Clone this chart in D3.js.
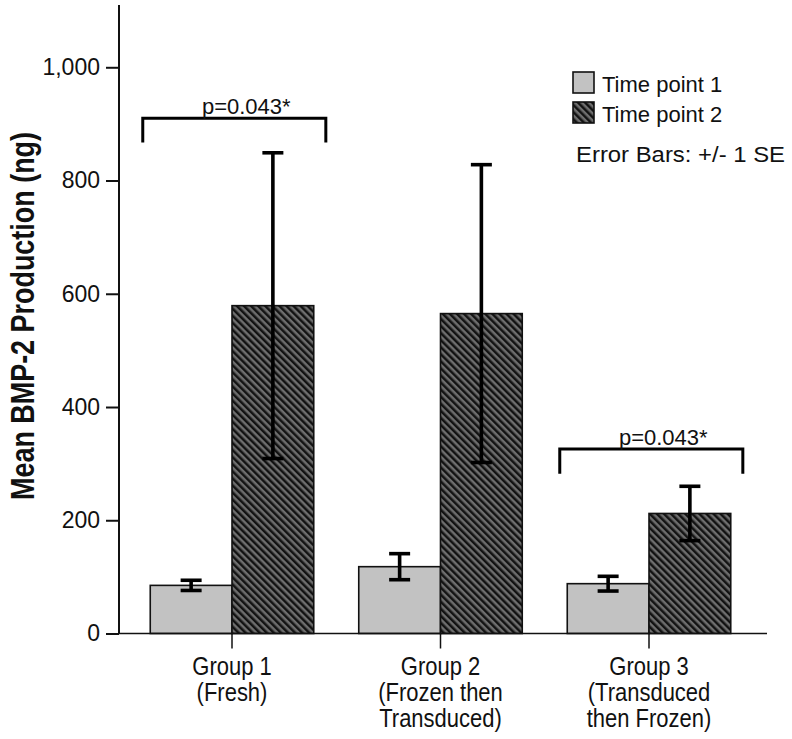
<!DOCTYPE html>
<html>
<head>
<meta charset="utf-8">
<script src="https://cdn.jsdelivr.net/npm/d3@7"></script>
<style>
  html, body { margin: 0; padding: 0; background: #fff; }
  svg text { font-family: "Liberation Sans", Arial, sans-serif; fill: #111; }
</style>
</head>
<body>
<svg id="chart" width="792" height="739"></svg>
<script>
// ---- data ----
const groups = ["Group 1", "Group 2", "Group 3"];
const groupLabels = [
  ["Group 1", "(Fresh)"],
  ["Group 2", "(Frozen then", "Transduced)"],
  ["Group 3", "(Transduced", "then Frozen)"]
];
const series = ["Time point 1", "Time point 2"];
const tp1Mean = [85, 118, 88];
const tp2Mean = [579, 565, 212];
const tp1SE = [9, 23, 13];
const tp2SE = [270, 263, 48];
const yTicks = [0, 200, 400, 600, 800, 1000];
const brackets = [
  { group: "Group 1", top: 910, drop: 43, label: "p=0.043*" },
  { group: "Group 3", top: 326, drop: 44, label: "p=0.043*" }
];
const yTitle = "Mean BMP-2 Production (ng)";
const errorNote = "Error Bars:  +/- 1 SE";

// ---- layout ----
const svg = d3.select("#chart");
const axisX = 119, yTop = 5, yBase = 633.5, xRight = 767;

const y = d3.scaleLinear().domain([0, 1110]).range([yBase, yTop]);
const x0 = d3.scaleBand().domain(groups).range([127.75, 753.25]).padding(0);
const x1 = d3.scaleBand().domain(series).range([22.5, 186]).padding(0);

const defs = svg.append("defs");
const pat = defs.append("pattern")
  .attr("id", "hatch").attr("patternUnits", "userSpaceOnUse")
  .attr("width", 5).attr("height", 5)
  .attr("patternTransform", "rotate(-45)");
pat.append("rect").attr("width", 5).attr("height", 5).attr("fill", "#6e6e6e");
pat.append("rect").attr("x", 0).attr("width", 2.5).attr("height", 5).attr("fill", "#121212");

const fills = { "Time point 1": "#c2c2c2", "Time point 2": "url(#hatch)" };

const rows = [];
groups.forEach((g, i) => {
  rows.push({ g, s: series[0], v: tp1Mean[i], se: tp1SE[i] });
  rows.push({ g, s: series[1], v: tp2Mean[i], se: tp2SE[i] });
});

// bars
svg.append("g").selectAll("rect").data(rows).join("rect")
  .attr("x", d => x0(d.g) + x1(d.s))
  .attr("y", d => y(d.v))
  .attr("width", x1.bandwidth())
  .attr("height", d => y(0) - y(d.v))
  .attr("fill", d => fills[d.s])
  .attr("stroke", "#111").attr("stroke-width", 1.6);

// error bars
const eb = svg.append("g").attr("stroke", "#000").attr("stroke-width", 3.6);
rows.forEach(d => {
  const cx = x0(d.g) + x1(d.s) + x1.bandwidth() / 2;
  const hw = 10.5;
  eb.append("line").attr("x1", cx).attr("x2", cx).attr("y1", y(d.v + d.se)).attr("y2", y(d.v - d.se));
  eb.append("line").attr("x1", cx - hw).attr("x2", cx + hw).attr("y1", y(d.v + d.se)).attr("y2", y(d.v + d.se));
  eb.append("line").attr("x1", cx - hw).attr("x2", cx + hw).attr("y1", y(d.v - d.se)).attr("y2", y(d.v - d.se));
});

// y axis
const yAxis = d3.axisLeft(y).tickValues(yTicks).tickFormat(d3.format(",")).tickSizeOuter(0).tickSize(13).tickPadding(6);
const gy = svg.append("g").attr("transform", `translate(${axisX},0)`).call(yAxis);
gy.select(".domain").remove();
gy.selectAll(".tick line").attr("stroke", "#111").attr("stroke-width", 2);
gy.selectAll(".tick text").attr("font-size", 23).attr("fill", "#111")
  .attr("font-family", '"Liberation Sans", Arial, sans-serif');
svg.append("line").attr("x1", axisX).attr("x2", axisX).attr("y1", yTop).attr("y2", yBase)
  .attr("stroke", "#111").attr("stroke-width", 2);

// x baseline + ticks
svg.append("line").attr("x1", axisX).attr("x2", xRight).attr("y1", yBase).attr("y2", yBase)
  .attr("stroke", "#111").attr("stroke-width", 1.5);
const gx = svg.append("g");
groups.forEach((g, i) => {
  const cx = x0(g) + x0.bandwidth() / 2;
  gx.append("line").attr("x1", cx).attr("x2", cx).attr("y1", yBase).attr("y2", yBase + 15)
    .attr("stroke", "#111").attr("stroke-width", 1.5);
  const t = gx.append("text").attr("text-anchor", "middle").attr("font-size", 22)
    .attr("transform", `translate(${cx},0) scale(1,1.15)`);
  groupLabels[i].forEach((ln, k) => {
    t.append("tspan").attr("x", 0).attr("y", (675 + k * 26) / 1.15).text(ln);
  });
});

// brackets
const bg = svg.append("g");
brackets.forEach(b => {
  const bx = x0(b.group), bw = x0.bandwidth();
  const l = bx + bw * 0.072, r = bx + bw * 0.95;
  bg.append("path")
    .attr("d", `M${l},${y(b.top - b.drop)}V${y(b.top)}H${r}V${y(b.top - b.drop)}`)
    .attr("fill", "none").attr("stroke", "#000").attr("stroke-width", 3);
  bg.append("text").attr("x", (l + r) / 2 + 12).attr("y", y(b.top) - 4)
    .attr("text-anchor", "middle").attr("font-size", 22).text(b.label);
});

// y title
svg.append("text")
  .attr("transform", `translate(34,316) rotate(-90)`)
  .attr("text-anchor", "middle").attr("font-size", 33).attr("font-weight", "bold")
  .attr("textLength", 368).attr("lengthAdjust", "spacingAndGlyphs")
  .text(yTitle);

// legend
const lg = svg.append("g");
series.forEach((s, i) => {
  const ly = 72 + i * 30;
  lg.append("rect").attr("x", 573).attr("y", ly).attr("width", 21).attr("height", 21)
    .attr("fill", fills[s]).attr("stroke", "#111").attr("stroke-width", 1.6);
  lg.append("text").attr("x", 602).attr("y", ly + 20).attr("font-size", 22).text(s);
});
lg.append("text").attr("x", 576).attr("y", 162).attr("font-size", 22)
  .attr("textLength", 209).attr("lengthAdjust", "spacingAndGlyphs").text(errorNote);
</script>
</body>
</html>
